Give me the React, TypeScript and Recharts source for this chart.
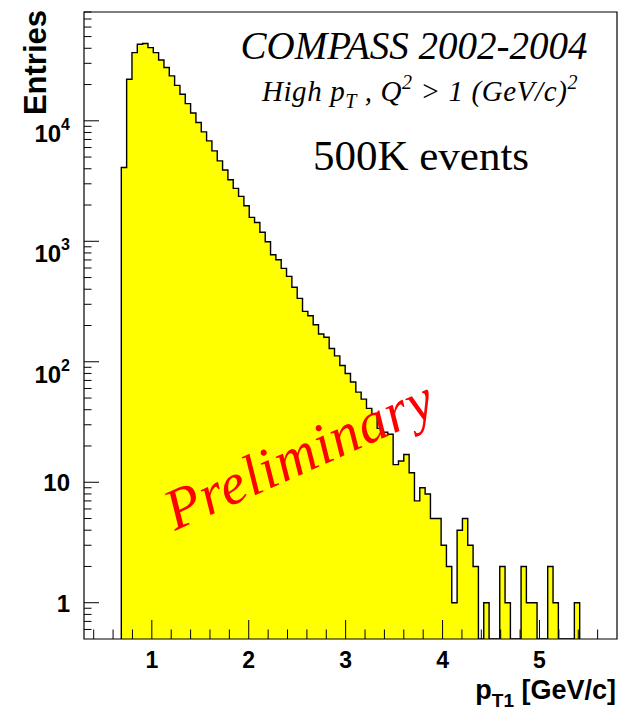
import React from "react";
import {
  AreaChart,
  Area,
  XAxis,
  YAxis,
  ReferenceArea,
} from "recharts";

// histogram binning: 100 bins of 0.055 GeV/c between 0.3 and 5.8
const xRange = [0.3, 5.8];
const firstEdge = 0.685; // lower edge of the first filled bin
const binWidth = 0.055;

// entries per bin, from the first filled bin onwards
const counts = [
  4100, 22100, 36800, 43200, 43800, 40500, 36800, 32000, 27700, 23600,
  19700, 16600, 13900, 11600, 9680, 8100, 6820, 5630, 4650, 3910,
  3240, 2750, 2360, 1970, 1580, 1430, 1190, 990, 773, 703,
  596, 511, 415, 336, 262, 241, 203, 170, 160, 129,
  112, 93, 80, 68, 56, 49, 41, 37, 28, 26,
  25, 14, 15, 17, 12, 7, 9, 8, 5, 5,
  3, 2, 1, 4, 5, 3, 2, 0, 1, 0,
  0, 2, 1, 0, 0, 2, 1, 1, 0, 0,
  2, 1, 0, 0, 0, 1,
];

const yRange = [0.5, 80000];
const yMajorTicks = [1, 10, 100, 1000, 10000];
const xMajorTicks = [1, 2, 3, 4, 5];
const xMinorTicks = [
  0.4, 0.6, 0.8, 1.2, 1.4, 1.6, 1.8, 2.2, 2.4, 2.6, 2.8, 3.2, 3.4, 3.6, 3.8,
  4.2, 4.4, 4.6, 4.8, 5.2, 5.4, 5.6,
];

// log axis minor ticks: 2..9 in every decade, plus 0.6-0.9 below 1
const yMinorTicks: number[] = [0.6, 0.7, 0.8, 0.9];
yMajorTicks.forEach((d) => {
  for (let m = 2; m <= 9; m++) {
    const v = d * m;
    if (v <= yRange[1]) yMinorTicks.push(v);
  }
});

const FLOOR = yRange[0];

// step outline points at the bin lower edges; empty bins sit on the axis floor
const histData = [
  { x: firstEdge, y: FLOOR },
  ...counts.map((c, i) => ({
    x: +(firstEdge + i * binWidth).toFixed(4),
    y: c > 0 ? c : FLOOR,
  })),
  { x: +(firstEdge + counts.length * binWidth).toFixed(4), y: FLOOR },
];

const SANS = "'Liberation Sans', Arial, Helvetica, sans-serif";
const SERIF = "'Liberation Serif', 'Times New Roman', serif";

const W = 621;
const H = 712;

const YTick = (props: any) => {
  const { x, y, payload } = props;
  const v = payload.value;
  const major = yMajorTicks.includes(v);
  const exp = Math.round(Math.log10(v));
  return (
    <g>
      <line x1={x} x2={x + (major ? 15 : 7.5)} y1={y} y2={y} stroke="#000" strokeWidth={1} />
      {major && exp < 2 && (
        <text x={x - 14} y={y} dy={9} textAnchor="end" fontFamily={SANS} fontWeight="bold" fontSize={24} fill="#000">
          {v}
        </text>
      )}
      {major && exp >= 2 && (
        <text x={x - 14} y={y} dy={21} textAnchor="end" fontFamily={SANS} fontWeight="bold" fontSize={24} fill="#000">
          10
          <tspan dy={-12} fontSize={16}>
            {exp}
          </tspan>
        </text>
      )}
    </g>
  );
};

const XTick = (props: any) => {
  const { x, y, payload } = props;
  const v = payload.value;
  const major = xMajorTicks.includes(v);
  return (
    <g>
      <line x1={x} x2={x} y1={y} y2={y - (major ? 19 : 9.5)} stroke="#000" strokeWidth={1} />
      {major && (
        <text x={x} y={y + 29} textAnchor="middle" fontFamily={SANS} fontWeight="bold" fontSize={23} fill="#000">
          {v}
        </text>
      )}
    </g>
  );
};

export default function App() {
  return (
    <div style={{ position: "absolute", left: 0, top: 0, width: W, height: H, background: "#fff" }}>
      <AreaChart
        width={W}
        height={H}
        data={histData}
        margin={{ top: 12, right: 4, left: 0, bottom: 0 }}
      >
        <XAxis
          dataKey="x"
          type="number"
          domain={xRange}
          allowDataOverflow
          ticks={[...xMinorTicks, ...xMajorTicks].sort((a, b) => a - b)}
          interval={0}
          tick={<XTick />}
          tickSize={0}
          tickMargin={0}
          tickLine={false}
          axisLine={false}
          height={73}
        />
        <YAxis
          type="number"
          scale="log"
          domain={yRange}
          allowDataOverflow
          ticks={[...yMinorTicks, ...yMajorTicks].sort((a, b) => a - b)}
          interval={0}
          tick={<YTick />}
          tickSize={0}
          tickMargin={0}
          tickLine={false}
          axisLine={false}
          width={84}
        />
        <Area
          type="stepAfter"
          dataKey="y"
          baseValue={FLOOR}
          stroke="#000"
          strokeWidth={1.4}
          fill="#ffff00"
          fillOpacity={1}
          isAnimationActive={false}
          dot={false}
          activeDot={false}
        />
        <ReferenceArea
          x1={xRange[0]}
          x2={xRange[1]}
          y1={yRange[0]}
          y2={yRange[1]}
          fill="none"
          stroke="#000"
          strokeWidth={1.2}
        />
      </AreaChart>
      <svg
        width={W}
        height={H}
        style={{ position: "absolute", left: 0, top: 0, pointerEvents: "none" }}
      >
        <text x={414} y={59} textAnchor="middle" fontFamily={SERIF} fontStyle="italic" fontSize={39} fill="#000">
          COMPASS 2002-2004
        </text>
        <text x={420} y={101} textAnchor="middle" fontFamily={SERIF} fontStyle="italic" fontSize={29} letterSpacing={0.6} fill="#000">
          High p
          <tspan dy={7} fontSize={20}>T</tspan>
          <tspan dy={-7}> ,  Q</tspan>
          <tspan dy={-12} fontSize={20}>2</tspan>
          <tspan dy={12}> &gt; 1 (GeV/c)</tspan>
          <tspan dy={-12} fontSize={20}>2</tspan>
        </text>
        <text x={421} y={170} textAnchor="middle" fontFamily={SERIF} fontSize={43} fill="#000">
          500K events
        </text>
        <text
          x={0}
          y={0}
          transform="translate(307,472) rotate(-24)"
          textAnchor="middle"
          fontFamily={SERIF}
          fontStyle="italic"
          fontSize={58}
          letterSpacing={1}
          fill="#ff0000"
        >
          Preliminary
        </text>
        <text
          x={0}
          y={0}
          transform="translate(46,10) rotate(-90)"
          textAnchor="end"
          fontFamily={SANS}
          fontWeight="bold"
          fontSize={31}
          fill="#000"
        >
          Entries
        </text>
        <text x={616} y={699} textAnchor="end" fontFamily={SANS} fontWeight="bold" fontSize={27} fill="#000">
          p
          <tspan dy={8} fontSize={19}>T1</tspan>
          <tspan dy={-8}> [GeV/c]</tspan>
        </text>
      </svg>
    </div>
  );
}
